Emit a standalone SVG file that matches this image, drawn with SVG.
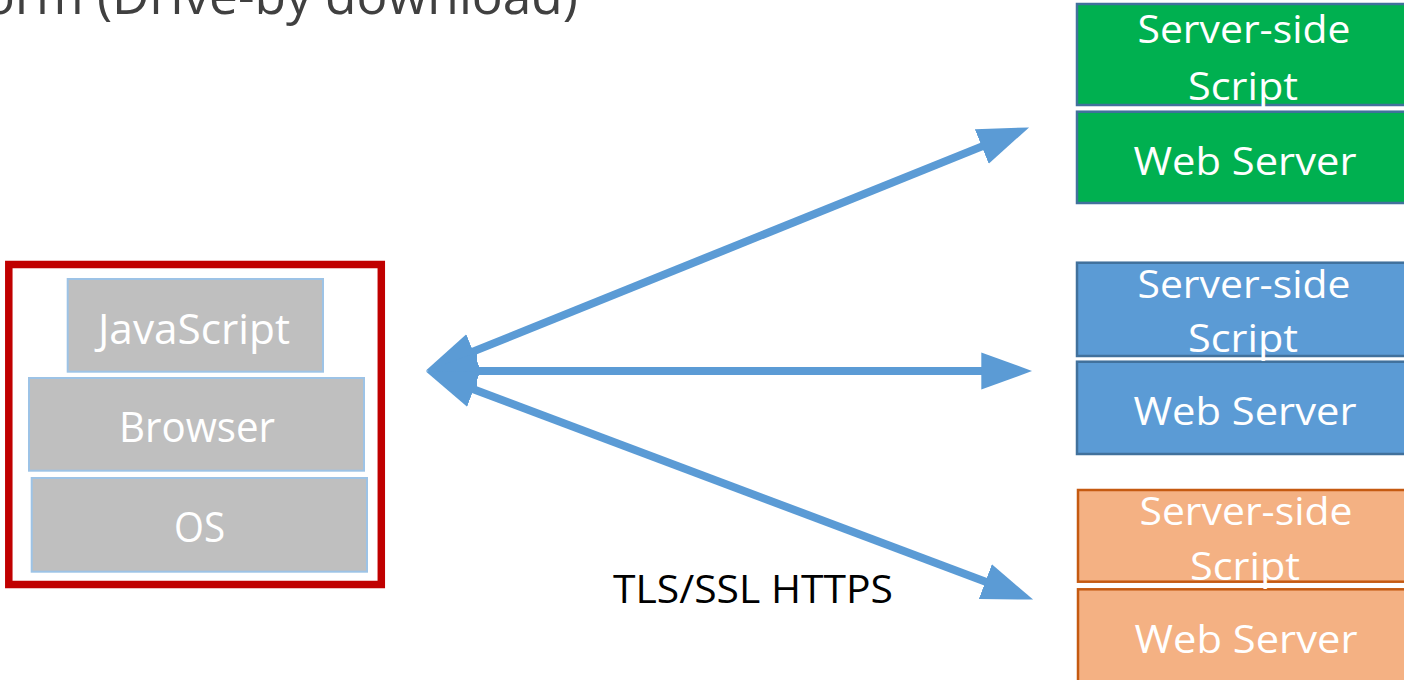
<svg xmlns="http://www.w3.org/2000/svg" width="1404" height="680" viewBox="0 0 1404 680">
  <style>
    text { font-family: "Open Sans", "Noto Sans", "Liberation Sans", sans-serif; }
    .title { font-size: 52px; fill: #404040; }
    .layer { fill: #BFBFBF; stroke: #9DC3E6; stroke-width: 2; }
    .wt { fill: #FFFFFF; text-anchor: middle; }
    .lt { font-size: 42px; }
    .st { font-size: 39px; }
    .green { fill: #00B050; stroke: #41719C; stroke-width: 2.5; }
    .blue { fill: #5B9BD5; stroke: #41719C; stroke-width: 2.5; }
    .orange { fill: #F4B183; stroke: #C55A11; stroke-width: 2.5; }
    .link { stroke: #5B9BD5; stroke-width: 8; fill: none; marker-start: url(#head); marker-end: url(#head); }
    .label { font-size: 39px; fill: #000000; }
  </style>
  <defs>
    <marker id="head" viewBox="0 -19 51 38" refX="1" refY="0" markerWidth="51" markerHeight="38" markerUnits="userSpaceOnUse" orient="auto-start-reverse">
      <path d="M0,-18.5 L51,0 L0,18.5 z" fill="#5B9BD5"/>
    </marker>
  </defs>

  <rect width="1404" height="680" fill="#FFFFFF"/>

  <text class="title" x="-16" y="14" textLength="594" lengthAdjust="spacingAndGlyphs">orm (Drive-by download)</text>

  <!-- client stack -->
  <g id="client">
    <rect x="8.8" y="264.5" width="372.5" height="320" fill="none" stroke="#C00000" stroke-width="7.5"/>
  </g>
  <g id="javascript">
    <rect class="layer" x="67.7" y="279" width="255.3" height="92.7"/>
    <text class="wt lt" x="194" y="344" textLength="192" lengthAdjust="spacingAndGlyphs">JavaScript</text>
  </g>
  <g id="browser">
    <rect class="layer" x="29" y="378" width="335" height="92.7"/>
    <text class="wt lt" x="197" y="441.7" textLength="156" lengthAdjust="spacingAndGlyphs">Browser</text>
  </g>
  <g id="os">
    <rect class="layer" x="31.7" y="478" width="335.3" height="93.7"/>
    <text class="wt lt" x="199.5" y="542.3" textLength="51" lengthAdjust="spacingAndGlyphs">OS</text>
  </g>

  <!-- server stacks -->
  <g id="server-green">
    <rect class="green" x="1077" y="4" width="340" height="101"/>
    <rect class="green" x="1077" y="111.7" width="340" height="91.3"/>
    <text class="wt st" x="1244" y="43" textLength="213" lengthAdjust="spacingAndGlyphs">Server-side</text>
    <text class="wt st" x="1243" y="100" textLength="110" lengthAdjust="spacingAndGlyphs">Script</text>
    <text class="wt st" x="1245" y="175" textLength="223" lengthAdjust="spacingAndGlyphs">Web Server</text>
  </g>
  <g id="server-blue">
    <rect class="blue" x="1077" y="262.7" width="340" height="93.3"/>
    <rect class="blue" x="1077" y="361.7" width="340" height="92.3"/>
    <text class="wt st" x="1244" y="298.3" textLength="213" lengthAdjust="spacingAndGlyphs">Server-side</text>
    <text class="wt st" x="1243" y="352" textLength="110" lengthAdjust="spacingAndGlyphs">Script</text>
    <text class="wt st" x="1245" y="425" textLength="223" lengthAdjust="spacingAndGlyphs">Web Server</text>
  </g>
  <g id="server-orange">
    <rect class="orange" x="1078" y="490" width="340" height="91.7"/>
    <rect class="orange" x="1078" y="589.3" width="340" height="100"/>
    <text class="wt st" x="1246" y="525" textLength="213" lengthAdjust="spacingAndGlyphs">Server-side</text>
    <text class="wt st" x="1245" y="580" textLength="110" lengthAdjust="spacingAndGlyphs">Script</text>
    <text class="wt st" x="1246" y="653" textLength="223" lengthAdjust="spacingAndGlyphs">Web Server</text>
  </g>

  <!-- connections -->
  <g id="connectors">
    <line class="link" x1="472.3" y1="351.9" x2="982.7" y2="146.1"/>
    <line class="link" x1="476" y1="371" x2="982.3" y2="371"/>
    <line class="link" x1="472.7" y1="389" x2="986.3" y2="582"/>
  </g>

  <text class="label" x="613" y="603.3" textLength="280" lengthAdjust="spacingAndGlyphs">TLS/SSL HTTPS</text>
</svg>
